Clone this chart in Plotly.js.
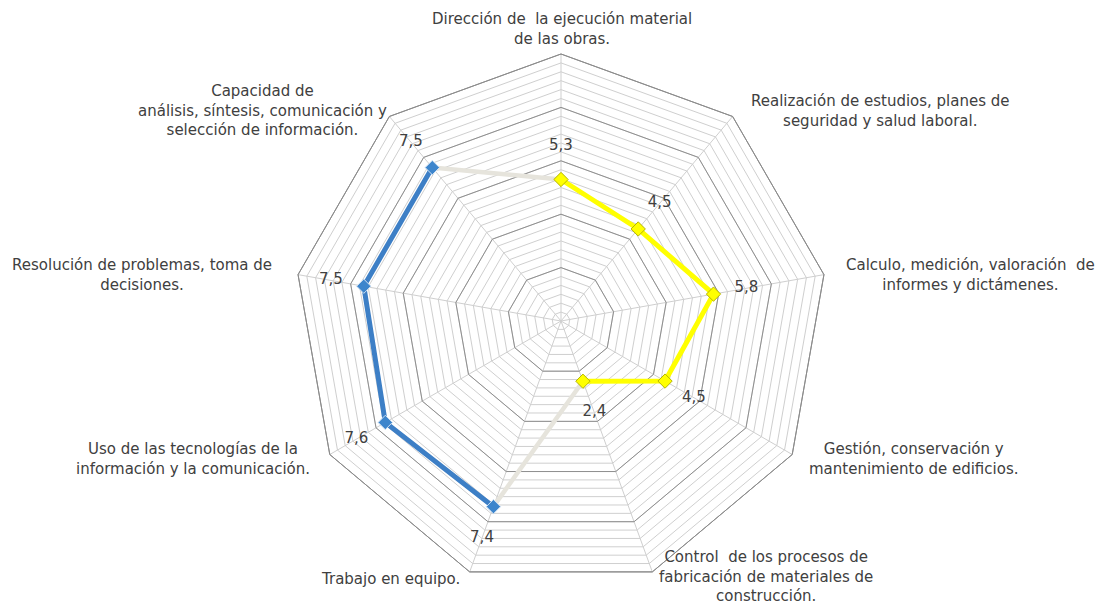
<!DOCTYPE html>
<html>
<head>
<meta charset="utf-8">
<script src="https://cdn.plot.ly/plotly-3.0.1.min.js"></script>
<style>
  body { margin: 0; background: #fff; }
  #chart { width: 1101px; height: 607px; }
</style>
</head>
<body>
<div id="chart"></div>
<script>
// Competences, clockwise from the top
var categories = [
  "Dirección de  la ejecución material de las obras.",
  "Realización de estudios, planes de seguridad y salud laboral.",
  "Calculo, medición, valoración  de informes y dictámenes.",
  "Gestión, conservación y mantenimiento de edificios.",
  "Control  de los procesos de fabricación de materiales de construcción.",
  "Trabajo en equipo.",
  "Uso de las tecnologías de la información y la comunicación.",
  "Resolución de problemas, toma de decisiones.",
  "Capacidad de análisis, síntesis, comunicación y selección de información."
];

// How the names are broken over lines on the chart
var categoryLabels = [
  "Dirección de \u00a0la ejecución material<br>de las obras.",
  "Realización de estudios, planes de<br>seguridad y salud laboral.",
  "Calculo, medición, valoración \u00a0de<br>informes y dictámenes.",
  "Gestión, conservación y<br>mantenimiento de edificios.",
  "Control \u00a0de los procesos de<br>fabricación de materiales de<br>construcción.",
  "Trabajo en equipo.",
  "Uso de las tecnologías de la<br>información y la comunicación.",
  "Resolución de problemas, toma de<br>decisiones.",
  "Capacidad de<br>análisis, síntesis, comunicación y<br>selección de información."
];

var values = [5.3, 4.5, 5.8, 4.5, 2.4, 7.4, 7.6, 7.5, 7.5];

// specific competences (yellow) and generic ones (blue)
var specificIdx = [0, 1, 2, 3, 4];
var genericIdx = [5, 6, 7, 8];

// where the category names sit on the page (pixels)
var labelPx = [
  [562, 29], [880, 111], [970, 275], [914, 459], [766, 576],
  [390, 579], [193, 459], [142, 275], [262, 110]
];

var W = 1101, H = 607;
var cx = 561, cy = 321, rad = 267;

function pick(arr, idx) { return idx.map(function (i) { return arr[i]; }); }
function fmt(v) { return v.toFixed(1).replace(".", ","); }

var markerYellow = { symbol: "diamond", size: 11, color: "#ffff00", line: { color: "#b5b500", width: 1 } };
var markerBlue = { symbol: "diamond", size: 11, color: "#3d85cc", line: { color: "#cfe0f2", width: 1 } };

var traces = [
  // invisible trace so the background grid subplot is drawn
  { type: "scatterpolar", subplot: "polar", r: categories.map(function () { return 0; }), theta: categories,
    mode: "markers", marker: { opacity: 0 }, hoverinfo: "skip", showlegend: false },
  // grey links between the two groups
  { type: "scatterpolar", subplot: "polar2", r: pick(values, [4, 5]), theta: pick(categories, [4, 5]),
    mode: "lines", line: { color: "#e6e4dc", width: 4.5 }, hoverinfo: "skip" },
  { type: "scatterpolar", subplot: "polar2", r: pick(values, [8, 0]), theta: pick(categories, [8, 0]),
    mode: "lines", line: { color: "#e6e4dc", width: 4.5 }, hoverinfo: "skip" },
  { type: "scatterpolar", subplot: "polar2", r: pick(values, specificIdx), theta: pick(categories, specificIdx),
    mode: "lines+markers", line: { color: "#ffff00", width: 5 }, marker: markerYellow },
  { type: "scatterpolar", subplot: "polar2", r: pick(values, genericIdx), theta: pick(categories, genericIdx),
    mode: "lines+markers", line: { color: "#3d7fc6", width: 5 }, marker: markerBlue },
  // value labels, pushed a bit outwards
  { type: "scatterpolar", subplot: "polar2", r: values.map(function (v) { return v + 1.25; }), theta: categories,
    mode: "text", text: values.map(fmt), textposition: "middle center",
    textfont: { family: "DejaVu Sans", size: 15, color: "#404040" }, hoverinfo: "skip" }
];

var dom = {
  x: [(cx - rad) / W, (cx + rad) / W],
  y: [1 - (cy + rad) / H, 1 - (cy - rad) / H]
};

function angAxis(grid) {
  return {
    type: "category", categoryorder: "array", categoryarray: categories,
    rotation: 90, direction: "clockwise",
    showticklabels: false, ticks: "",
    showgrid: grid, gridcolor: "#cfcfcf", gridwidth: 1,
    showline: true, linecolor: "#8c8c8c", linewidth: 1
  };
}

var layout = {
  width: W, height: H,
  margin: { l: 0, r: 0, t: 0, b: 0 },
  paper_bgcolor: "#ffffff",
  showlegend: false,
  font: { family: "DejaVu Sans", color: "#404040" },
  polar: {
    domain: dom, gridshape: "linear", bgcolor: "#ffffff",
    radialaxis: { range: [0, 10], dtick: 1 / 3, tick0: 0, showticklabels: false, ticks: "",
      showline: false, gridcolor: "#cfcfcf", gridwidth: 1 },
    angularaxis: angAxis(true)
  },
  polar2: {
    domain: dom, gridshape: "linear", bgcolor: "rgba(0,0,0,0)",
    radialaxis: { range: [0, 10], dtick: 2, tick0: 0, showticklabels: false, ticks: "",
      showline: false, gridcolor: "#8f8f8f", gridwidth: 1 },
    angularaxis: angAxis(false)
  },
  annotations: categoryLabels.map(function (t, i) {
    return {
      text: t, xref: "paper", yref: "paper",
      x: labelPx[i][0] / W, y: 1 - labelPx[i][1] / H,
      xanchor: "center", yanchor: "middle", align: "center", showarrow: false,
      font: { family: "DejaVu Sans", size: 15, color: "#404040" }
    };
  })
};

Plotly.newPlot("chart", traces, layout, { staticPlot: true });
</script>
</body>
</html>
